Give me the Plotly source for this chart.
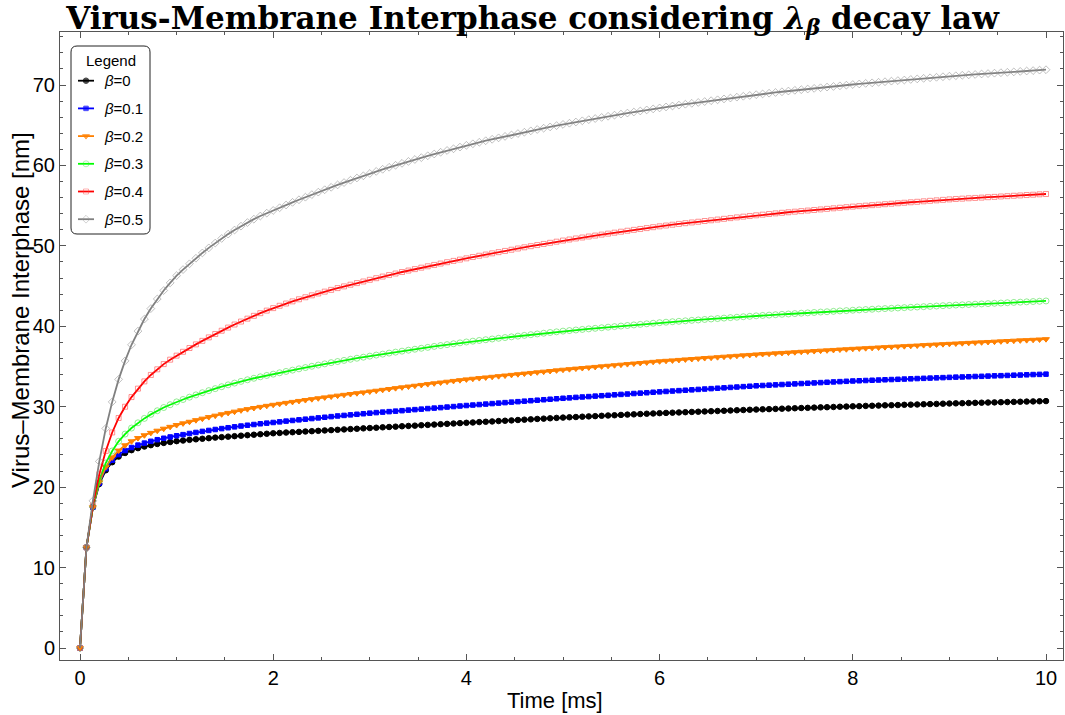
import plotly.graph_objects as go

# sampling grid of the curves (151 points, step 1/15 ms)
time_ms = [round(i / 15, 5) for i in range(151)]

beta_labels = ["0", "0.1", "0.2", "0.3", "0.4", "0.5"]

y_b0 = [
    0, 12.5, 17.5, 20.4, 22.1, 23.1, 23.8, 24.25, 24.6, 24.85, 25.05, 25.22, 25.37, 25.5, 25.61,
    25.72, 25.8, 25.88, 25.95, 26.02, 26.09, 26.16, 26.22, 26.28, 26.34, 26.4, 26.46, 26.52, 26.58, 26.64,
    26.7, 26.74, 26.79, 26.83, 26.87, 26.92, 26.96, 27.0, 27.05, 27.09, 27.13, 27.18, 27.22, 27.26, 27.31,
    27.35, 27.39, 27.44, 27.48, 27.52, 27.57, 27.61, 27.65, 27.7, 27.74, 27.78, 27.83, 27.87, 27.91, 27.96,
    28.0, 28.04, 28.09, 28.13, 28.17, 28.22, 28.26, 28.3, 28.35, 28.39, 28.43, 28.48, 28.52, 28.56, 28.61,
    28.65, 28.69, 28.72, 28.76, 28.8, 28.83, 28.87, 28.91, 28.94, 28.98, 29.02, 29.05, 29.09, 29.13, 29.16,
    29.2, 29.23, 29.26, 29.29, 29.32, 29.35, 29.38, 29.41, 29.44, 29.47, 29.5, 29.53, 29.56, 29.59, 29.62,
    29.65, 29.68, 29.7, 29.73, 29.76, 29.78, 29.81, 29.84, 29.86, 29.89, 29.92, 29.94, 29.97, 30.0, 30.02,
    30.05, 30.07, 30.1, 30.12, 30.14, 30.17, 30.19, 30.21, 30.24, 30.26, 30.28, 30.31, 30.33, 30.35, 30.38,
    30.4, 30.42, 30.44, 30.46, 30.48, 30.5, 30.52, 30.54, 30.56, 30.58, 30.6, 30.62, 30.64, 30.66, 30.68,
    30.7,
]

y_b01 = [
    0, 12.5, 17.5, 20.5, 22.3, 23.35, 24.05, 24.55, 24.93, 25.23, 25.48, 25.7, 25.9, 26.08, 26.24,
    26.39, 26.53, 26.67, 26.8, 26.93, 27.05, 27.17, 27.28, 27.39, 27.5, 27.6, 27.7, 27.79, 27.88, 27.96,
    28.04, 28.12, 28.21, 28.29, 28.37, 28.45, 28.53, 28.61, 28.69, 28.77, 28.85, 28.92, 28.99, 29.06, 29.13,
    29.2, 29.27, 29.33, 29.39, 29.45, 29.51, 29.58, 29.64, 29.7, 29.77, 29.83, 29.89, 29.96, 30.02, 30.09,
    30.15, 30.21, 30.27, 30.33, 30.39, 30.45, 30.51, 30.57, 30.63, 30.69, 30.75, 30.81, 30.87, 30.93, 30.99,
    31.05, 31.1, 31.16, 31.21, 31.26, 31.32, 31.37, 31.42, 31.48, 31.53, 31.58, 31.64, 31.69, 31.74, 31.8,
    31.85, 31.9, 31.95, 32.0, 32.05, 32.1, 32.15, 32.2, 32.25, 32.3, 32.35, 32.4, 32.45, 32.5, 32.55,
    32.6, 32.64, 32.68, 32.72, 32.76, 32.8, 32.84, 32.88, 32.92, 32.96, 33.0, 33.04, 33.08, 33.12, 33.16,
    33.2, 33.23, 33.26, 33.29, 33.32, 33.35, 33.38, 33.41, 33.44, 33.47, 33.5, 33.53, 33.56, 33.59, 33.62,
    33.65, 33.68, 33.7, 33.73, 33.76, 33.78, 33.81, 33.84, 33.86, 33.89, 33.92, 33.94, 33.97, 34.0, 34.02,
    34.05,
]

y_b02 = [
    0, 12.5, 17.5, 20.6, 22.5, 23.7, 24.55, 25.2, 25.7, 26.1, 26.45, 26.75, 27.02, 27.27, 27.5,
    27.72, 27.93, 28.13, 28.33, 28.52, 28.71, 28.89, 29.06, 29.23, 29.39, 29.55, 29.7, 29.84, 29.98, 30.11,
    30.24, 30.36, 30.48, 30.6, 30.72, 30.83, 30.94, 31.05, 31.16, 31.27, 31.38, 31.48, 31.58, 31.68, 31.78,
    31.89, 31.99, 32.1, 32.2, 32.31, 32.41, 32.51, 32.61, 32.71, 32.81, 32.91, 33.01, 33.11, 33.21, 33.3,
    33.4, 33.48, 33.56, 33.64, 33.72, 33.8, 33.88, 33.96, 34.04, 34.12, 34.2, 34.28, 34.36, 34.44, 34.52,
    34.6, 34.67, 34.74, 34.81, 34.88, 34.95, 35.02, 35.09, 35.16, 35.23, 35.3, 35.37, 35.44, 35.51, 35.58,
    35.65, 35.71, 35.76, 35.82, 35.88, 35.93, 35.99, 36.05, 36.1, 36.16, 36.22, 36.27, 36.33, 36.39, 36.44,
    36.5, 36.55, 36.59, 36.64, 36.69, 36.73, 36.78, 36.83, 36.87, 36.92, 36.97, 37.01, 37.06, 37.11, 37.15,
    37.2, 37.24, 37.28, 37.32, 37.37, 37.41, 37.45, 37.49, 37.53, 37.57, 37.61, 37.66, 37.7, 37.74, 37.78,
    37.82, 37.86, 37.9, 37.94, 37.98, 38.01, 38.05, 38.09, 38.13, 38.17, 38.21, 38.25, 38.28, 38.32, 38.36,
    38.4,
]

y_b03 = [
    0, 12.5, 17.6, 20.9, 23.0, 24.5, 25.7, 26.6, 27.35, 28.0, 28.55, 29.05, 29.5, 29.9, 30.25,
    30.6, 30.9, 31.19, 31.47, 31.74, 32.0, 32.25, 32.49, 32.72, 32.94, 33.15, 33.35, 33.54, 33.72, 33.89,
    34.05, 34.22, 34.39, 34.55, 34.71, 34.87, 35.03, 35.18, 35.33, 35.48, 35.62, 35.76, 35.9, 36.03, 36.16,
    36.29, 36.42, 36.54, 36.67, 36.79, 36.91, 37.03, 37.15, 37.27, 37.38, 37.5, 37.61, 37.72, 37.83, 37.94,
    38.05, 38.15, 38.24, 38.33, 38.42, 38.51, 38.6, 38.69, 38.78, 38.87, 38.96, 39.05, 39.14, 39.23, 39.31,
    39.4, 39.47, 39.54, 39.61, 39.68, 39.75, 39.82, 39.89, 39.96, 40.03, 40.1, 40.17, 40.24, 40.31, 40.38,
    40.45, 40.51, 40.57, 40.62, 40.68, 40.74, 40.79, 40.85, 40.91, 40.96, 41.02, 41.08, 41.13, 41.19, 41.24,
    41.3, 41.35, 41.39, 41.44, 41.49, 41.53, 41.58, 41.63, 41.67, 41.72, 41.77, 41.81, 41.86, 41.91, 41.95,
    42.0, 42.04, 42.08, 42.12, 42.16, 42.2, 42.24, 42.28, 42.32, 42.36, 42.4, 42.44, 42.48, 42.52, 42.56,
    42.6, 42.64, 42.67, 42.71, 42.75, 42.78, 42.82, 42.86, 42.89, 42.93, 42.97, 43.0, 43.04, 43.08, 43.11,
    43.15,
]

y_b04 = [
    0, 12.5, 17.7, 21.6, 24.5, 26.8, 28.6, 30.0, 31.2, 32.25, 33.15, 33.95, 34.65, 35.3, 35.85,
    36.35, 36.83, 37.3, 37.75, 38.19, 38.62, 39.04, 39.45, 39.84, 40.22, 40.59, 40.95, 41.3, 41.63, 41.95,
    42.26, 42.55, 42.83, 43.1, 43.36, 43.61, 43.85, 44.08, 44.31, 44.53, 44.75, 44.96, 45.17, 45.37, 45.57,
    45.78, 45.98, 46.18, 46.37, 46.56, 46.75, 46.93, 47.11, 47.29, 47.46, 47.63, 47.8, 47.97, 48.13, 48.29,
    48.45, 48.61, 48.77, 48.92, 49.07, 49.22, 49.37, 49.52, 49.67, 49.82, 49.96, 50.1, 50.24, 50.38, 50.52,
    50.66, 50.79, 50.92, 51.04, 51.16, 51.28, 51.4, 51.52, 51.64, 51.76, 51.88, 51.99, 52.1, 52.21, 52.32,
    52.43, 52.53, 52.63, 52.73, 52.82, 52.91, 53.0, 53.09, 53.18, 53.27, 53.36, 53.45, 53.54, 53.63, 53.71,
    53.8, 53.88, 53.96, 54.04, 54.11, 54.18, 54.25, 54.32, 54.39, 54.46, 54.53, 54.6, 54.67, 54.74, 54.81,
    54.88, 54.94, 55.0, 55.06, 55.12, 55.18, 55.24, 55.3, 55.36, 55.42, 55.48, 55.54, 55.6, 55.66, 55.72,
    55.78, 55.83, 55.87, 55.92, 55.96, 56.0, 56.05, 56.09, 56.14, 56.18, 56.23, 56.27, 56.32, 56.36, 56.41,
    56.45,
]

y_b05 = [
    0, 12.5, 18.3, 23.2, 27.3, 30.6, 33.4, 35.7, 37.7, 39.4, 40.9, 42.2, 43.4, 44.45, 45.4,
    46.3, 47.05, 47.77, 48.46, 49.12, 49.75, 50.35, 50.92, 51.46, 51.97, 52.45, 52.9, 53.32, 53.71, 54.07,
    54.4, 54.74, 55.08, 55.41, 55.73, 56.05, 56.37, 56.68, 56.98, 57.28, 57.58, 57.87, 58.16, 58.44, 58.71,
    59.0, 59.26, 59.52, 59.77, 60.02, 60.26, 60.5, 60.74, 60.97, 61.2, 61.42, 61.64, 61.86, 62.07, 62.28,
    62.5, 62.69, 62.88, 63.07, 63.25, 63.43, 63.61, 63.79, 63.96, 64.13, 64.3, 64.47, 64.63, 64.79, 64.95,
    65.1, 65.25, 65.4, 65.55, 65.69, 65.83, 65.97, 66.11, 66.25, 66.38, 66.51, 66.64, 66.77, 66.9, 67.03,
    67.15, 67.27, 67.39, 67.5, 67.61, 67.72, 67.83, 67.94, 68.05, 68.16, 68.27, 68.38, 68.49, 68.6, 68.7,
    68.8, 68.89, 68.98, 69.07, 69.16, 69.25, 69.34, 69.42, 69.5, 69.58, 69.66, 69.74, 69.82, 69.9, 69.98,
    70.06, 70.13, 70.2, 70.27, 70.34, 70.41, 70.48, 70.55, 70.62, 70.69, 70.76, 70.83, 70.9, 70.96, 71.03,
    71.1, 71.15, 71.21, 71.26, 71.31, 71.37, 71.42, 71.47, 71.53, 71.58, 71.63, 71.69, 71.74, 71.79, 71.85,
    71.9,
]

series = [y_b0, y_b01, y_b02, y_b03, y_b04, y_b05]

line_colors = ["#000000", "#0000ff", "#ff8000", "#00ff00", "#ff0000", "#808080"]
marker_colors = ["#000000", "#0000ff", "#ff8000",
                 "rgba(60,220,60,0.55)", "rgba(255,60,60,0.55)", "rgba(150,150,150,0.6)"]
symbols = ["circle", "square", "triangle-down", "circle-open", "square-open", "diamond-open"]
marker_sizes = [5.5, 4.5, 6, 6, 5, 6]

W, H = 1065, 715
ml, mr, mt, mb = 60, 2, 32, 55

fig = go.Figure()
for k, ys in enumerate(series):
    fig.add_trace(go.Scatter(
        x=time_ms, y=ys, mode="lines+markers", showlegend=False,
        name="β=" + beta_labels[k],
        line=dict(color=line_colors[k], width=1.8),
        marker=dict(symbol=symbols[k], size=marker_sizes[k], color=marker_colors[k],
                    line=dict(width=1, color=marker_colors[k])),
    ))

# ---- hand-made legend, drawn on an overlay axis measured in page pixels ----
leg_x0, leg_x1, leg_y0, leg_y1 = 71, 150, 46, 234
leg_row0, leg_step = 80.7, 27.7
r = 6
path = (
    f"M {leg_x0 + r},{leg_y0} L {leg_x1 - r},{leg_y0} Q {leg_x1},{leg_y0} {leg_x1},{leg_y0 + r} "
    f"L {leg_x1},{leg_y1 - r} Q {leg_x1},{leg_y1} {leg_x1 - r},{leg_y1} "
    f"L {leg_x0 + r},{leg_y1} Q {leg_x0},{leg_y1} {leg_x0},{leg_y1 - r} "
    f"L {leg_x0},{leg_y0 + r} Q {leg_x0},{leg_y0} {leg_x0 + r},{leg_y0} Z"
)
fig.add_shape(type="path", path=path, xref="x2", yref="y2",
              line=dict(color="#222", width=1), fillcolor="white", layer="below")

for k in range(len(series)):
    yk = leg_row0 + leg_step * k
    fig.add_trace(go.Scatter(
        x=[78, 86, 94], y=[yk, yk, yk], xaxis="x2", yaxis="y2",
        mode="lines+markers", showlegend=False, hoverinfo="skip",
        line=dict(color=line_colors[k], width=1.8),
        marker=dict(symbol=symbols[k], size=[0, marker_sizes[k], 0], color=marker_colors[k],
                    line=dict(width=1, color=marker_colors[k])),
    ))
    fig.add_annotation(x=102, y=yk, xref="x2", yref="y2", xanchor="left", yanchor="middle",
                       text="<i>β</i>=" + beta_labels[k], showarrow=False,
                       font=dict(family="Liberation Sans, Arial, sans-serif", size=15, color="black"))
fig.add_annotation(x=(leg_x0 + leg_x1) / 2, y=60, xref="x2", yref="y2", xanchor="center",
                   yanchor="middle", text="Legend", showarrow=False,
                   font=dict(family="Liberation Sans, Arial, sans-serif", size=15, color="black"))

# axis titles
fig.add_annotation(x=(555 - ml) / (W - ml - mr), y=-(700 - (H - mb)) / (H - mt - mb),
                   xref="paper", yref="paper", xanchor="center", yanchor="middle",
                   text="Time [ms]", showarrow=False,
                   font=dict(family="Liberation Sans, Arial, sans-serif", size=22, color="black"))
fig.add_annotation(x=-(ml - 20) / (W - ml - mr), y=((H - mb) - 310) / (H - mt - mb),
                   xref="paper", yref="paper", xanchor="center", yanchor="middle",
                   text="Virus–Membrane Interphase [nm]", textangle=-90, showarrow=False,
                   font=dict(family="Liberation Sans, Arial, sans-serif", size=24, color="black"))

axis_common = dict(
    showline=True, linecolor="#555", linewidth=1, mirror="allticks",
    ticks="inside", ticklen=6, tickcolor="#555", tickwidth=1,
    showgrid=False, zeroline=False,
    tickfont=dict(family="Liberation Sans, Arial, sans-serif", size=20, color="black"),
)

fig.update_layout(
    width=W, height=H,
    paper_bgcolor="white", plot_bgcolor="white",
    margin=dict(l=ml, r=mr, t=mt, b=mb),
    title=dict(
        text="<b>Virus-Membrane Interphase considering <i>λ</i><sub><i>β</i></sub> decay law</b>",
        x=0.5, xanchor="center", y=1 - 18 / H, yanchor="middle",
        font=dict(family="DejaVu Serif, Liberation Serif, serif", size=31, color="black"),
    ),
    xaxis=dict(
        range=[-0.207, 10.176], tickvals=[0, 2, 4, 6, 8, 10],
        minor=dict(dtick=0.5, tick0=0, ticks="inside", ticklen=3, tickcolor="#555"),
        automargin=False,
        **axis_common,
    ),
    yaxis=dict(
        range=[-1.49, 76.59], tickvals=[0, 10, 20, 30, 40, 50, 60, 70],
        minor=dict(dtick=2, tick0=0, ticks="inside", ticklen=3, tickcolor="#555"),
        automargin=False,
        **axis_common,
    ),
    xaxis2=dict(overlaying="x", range=[ml, W - mr], visible=False, fixedrange=True),
    yaxis2=dict(overlaying="y", range=[H - mb, mt], visible=False, fixedrange=True),
    showlegend=False,
)

fig.write_html("out.html", config={"displayModeBar": False},
               post_script="document.body.style.margin='0';document.body.style.overflow='hidden';")
